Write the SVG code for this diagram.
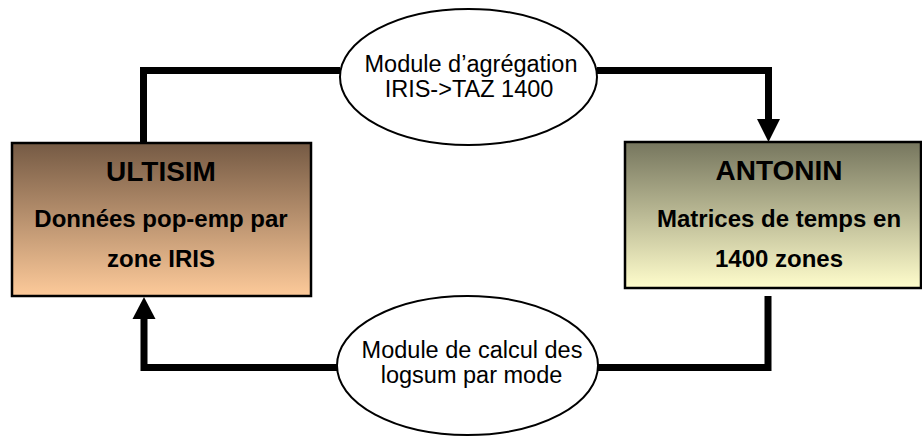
<svg xmlns="http://www.w3.org/2000/svg" width="922" height="437" viewBox="0 0 922 437">
<style>
.box{stroke:#000;stroke-width:2.5}
.ell{fill:#fff;stroke:#000;stroke-width:2}
.conn{fill:none;stroke:#000;stroke-width:7;stroke-linejoin:miter}
.title{font-family:"Liberation Sans",Arial,sans-serif;font-weight:bold;font-size:28px;text-anchor:middle;fill:#000}
.sub{font-family:"Liberation Sans",Arial,sans-serif;font-weight:bold;font-size:24px;text-anchor:middle;fill:#000}
.lbl{font-family:"Liberation Sans",Arial,sans-serif;font-size:23.5px;text-anchor:middle;fill:#000}
</style>
<defs>
<linearGradient id="gL" x1="0" y1="0" x2="0" y2="1">
<stop offset="0" stop-color="#755a44"/>
<stop offset="1" stop-color="#fdca9a"/>
</linearGradient>
<linearGradient id="gR" x1="0" y1="0" x2="0" y2="1">
<stop offset="0" stop-color="#76765e"/>
<stop offset="1" stop-color="#fffdcc"/>
</linearGradient>
</defs>
<g id="connectors">
<path class="conn" d="M143.5,143 V70.5 H340"/>
<path class="conn" d="M597,70.5 H768.5 V120"/>
<path d="M757,119 L780,119 L768.5,142 Z" fill="#000"/>
<path class="conn" d="M768,296 V367.5 H598"/>
<path class="conn" d="M337,367.5 H144 V318"/>
<path d="M132.5,319 L155.5,319 L144,297 Z" fill="#000"/>
</g>
<g id="ultisim">
<rect class="box" x="12" y="143" width="299" height="153" fill="url(#gL)"/>
<text class="title" x="161" y="181">ULTISIM</text>
<text class="sub" x="161" y="227">Données pop-emp par</text>
<text class="sub" x="161" y="267">zone IRIS</text>
</g>
<g id="antonin">
<rect class="box" x="625" y="142" width="296" height="146" fill="url(#gR)"/>
<text class="title" x="779" y="180">ANTONIN</text>
<text class="sub" x="779" y="227">Matrices de temps en</text>
<text class="sub" x="779" y="267">1400 zones</text>
</g>
<g id="agregation">
<ellipse class="ell" cx="468.5" cy="77" rx="128.5" ry="68"/>
<text class="lbl" x="471" y="72">Module d’agrégation</text>
<text class="lbl" x="469" y="97">IRIS-&gt;TAZ 1400</text>
</g>
<g id="logsum">
<ellipse class="ell" cx="467.5" cy="365.5" rx="130.5" ry="69.5"/>
<text class="lbl" x="472" y="358">Module de calcul des</text>
<text class="lbl" x="471.5" y="383">logsum par mode</text>
</g>
</svg>
